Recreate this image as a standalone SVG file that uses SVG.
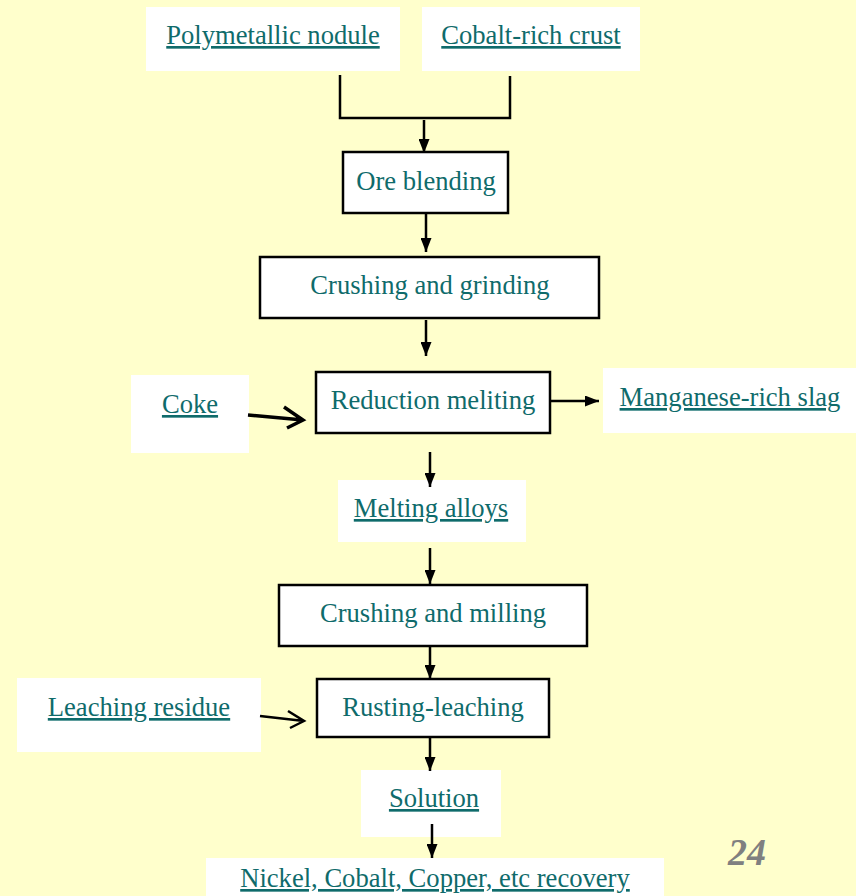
<svg xmlns="http://www.w3.org/2000/svg" width="856" height="896" viewBox="0 0 856 896">
<defs>
<style>
.t{font-family:"Liberation Serif","Times New Roman",serif;font-size:26.6px;fill:#0f6b6b;text-anchor:middle}
.u{text-decoration:underline}
.w{fill:#ffffff}
.b{fill:#ffffff;stroke:#000;stroke-width:2.5}
.c{stroke:#000;stroke-width:2.5;fill:none}
</style>
<marker id="ah" viewBox="0 0 14 11" refX="14" refY="5.5" markerWidth="14" markerHeight="11" orient="auto" markerUnits="userSpaceOnUse"><path d="M0,0 L14,5.5 L0,11 z" fill="#000"/></marker>
</defs>
<rect width="856" height="896" fill="#ffffcc"/>
<g id="polymetallic"><rect class="w" x="146" y="7" width="254" height="64"/><text class="t u" x="273" y="44">Polymetallic nodule</text></g>
<g id="cobalt"><rect class="w" x="422" y="7" width="218" height="64"/><text class="t u" x="531" y="44">Cobalt-rich crust</text></g>
<g id="ore"><rect class="b" x="343" y="152" width="165" height="61"/><text class="t" x="426" y="190">Ore blending</text></g>
<g id="crushgrind"><rect class="b" x="260" y="257" width="339" height="61"/><text class="t" x="430" y="294">Crushing and grinding</text></g>
<g id="reduction"><rect class="b" x="316" y="372" width="234" height="61"/><text class="t" x="433" y="409">Reduction meliting</text></g>
<g id="coke"><rect class="w" x="131" y="375" width="118" height="78"/><text class="t u" x="190" y="413">Coke</text></g>
<g id="slag"><rect class="w" x="603" y="368" width="253" height="65"/><text class="t u" x="730" y="406">Manganese-rich slag</text></g>
<g id="alloys"><rect class="w" x="338" y="480" width="188" height="62"/><text class="t u" x="431" y="517">Melting alloys</text></g>
<g id="crushmill"><rect class="b" x="279" y="585" width="308" height="61"/><text class="t" x="433" y="622">Crushing and milling</text></g>
<g id="rusting"><rect class="b" x="317" y="679" width="232" height="58"/><text class="t" x="433" y="716">Rusting-leaching</text></g>
<g id="residue"><rect class="w" x="17" y="678" width="244" height="74"/><text class="t u" x="139" y="716">Leaching residue</text></g>
<g id="solution"><rect class="w" x="361" y="770" width="140" height="67"/><text class="t u" x="434" y="807">Solution</text></g>
<g id="recovery"><rect class="w" x="206" y="858" width="458" height="38"/><text class="t u" x="435" y="887">Nickel, Cobalt, Copper, etc recovery</text></g>
<g id="connectors">
<polyline class="c" points="340,75 340,118 510,118 510,76"/>
<line class="c" x1="424" y1="120" x2="424" y2="153" marker-end="url(#ah)"/>
<line class="c" x1="426" y1="214" x2="426" y2="252" marker-end="url(#ah)"/>
<line class="c" x1="426" y1="320" x2="426" y2="356" marker-end="url(#ah)"/>
<line class="c" x1="551" y1="401" x2="599" y2="401" marker-end="url(#ah)"/>
<line class="c" x1="430" y1="452" x2="430" y2="487" marker-end="url(#ah)"/>
<line class="c" x1="430" y1="548" x2="430" y2="584" marker-end="url(#ah)"/>
<line class="c" x1="430" y1="647" x2="430" y2="679" marker-end="url(#ah)"/>
<line class="c" x1="430" y1="738" x2="430" y2="771" marker-end="url(#ah)"/>
<line class="c" x1="432" y1="824" x2="432" y2="858" marker-end="url(#ah)"/>
<path d="M248,415 L303,420 M284,407 L303,420 L287,428" stroke="#000" stroke-width="3.5" fill="none"/>
<path d="M260,716 L304,721 M288,711 L304,721 L290,728" stroke="#000" stroke-width="2.5" fill="none"/>
</g>
<text x="747" y="865" font-family="Liberation Serif, serif" font-size="38" font-weight="bold" font-style="italic" fill="#808080" text-anchor="middle">24</text>
</svg>
